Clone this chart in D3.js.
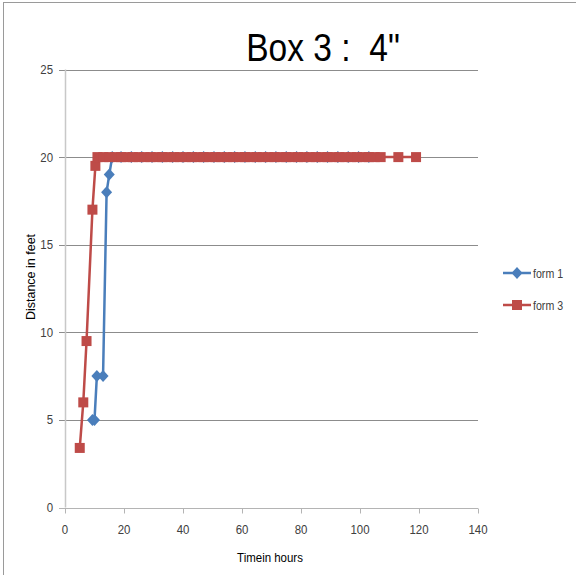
<!DOCTYPE html>
<html>
<head>
<meta charset="utf-8">
<script src="https://cdn.jsdelivr.net/npm/d3@7"></script>
<style>
  html, body { margin: 0; padding: 0; background: #fff; }
  svg { display: block; }
  text { font-family: "Liberation Sans", Arial, sans-serif; }
</style>
</head>
<body>
<svg id="chart" width="576" height="575"></svg>
<script>
// Time (hours) and distance (feet) for each form
const form1Hours = [9.3, 10, 10.8, 12.9, 14.1, 15, 16, 19, 22.5, 26, 29.5, 33, 36.5, 40, 43.5, 47, 50.5, 54, 57.5, 61, 64.5, 68, 71.5, 75, 78.5, 82, 85.5, 89, 92.5, 96, 99.5, 103];
const form1Feet  = [5, 5, 7.5, 7.5, 18, 19, 20, 20, 20, 20, 20, 20, 20, 20, 20, 20, 20, 20, 20, 20, 20, 20, 20, 20, 20, 20, 20, 20, 20, 20, 20, 20];

const form3Hours = [5, 6.2, 7.3, 9.3, 10.3, 11, 13, 15, 17, 19, 21, 23, 25, 27, 29, 31, 33, 35, 37, 39, 41, 43, 45, 47, 49, 51, 53, 55, 57, 59, 61, 63, 65, 67, 69, 71, 73, 75, 77, 79, 81, 83, 85, 87, 89, 91, 93, 95, 97, 99, 101, 103, 105, 107, 113, 119];
const form3Feet  = [3.4, 6, 9.5, 17, 19.5, 20, 20, 20, 20, 20, 20, 20, 20, 20, 20, 20, 20, 20, 20, 20, 20, 20, 20, 20, 20, 20, 20, 20, 20, 20, 20, 20, 20, 20, 20, 20, 20, 20, 20, 20, 20, 20, 20, 20, 20, 20, 20, 20, 20, 20, 20, 20, 20, 20, 20, 20];

const xTicks = [0, 20, 40, 60, 80, 100, 120, 140];
const yTicks = [0, 5, 10, 15, 20, 25];
const seriesNames = ["form 1", "form 3"];
const seriesColors = ["#4a7ebb", "#be4b48"];

const svg = d3.select("#chart");

// narrow text helper: horizontally condensed label
function narrowText(parent, px, py, str, size, squeeze, anchor, fill) {
  return parent.append("text")
    .attr("transform", `translate(${px},${py}) scale(${squeeze},1)`)
    .attr("text-anchor", anchor)
    .attr("font-size", size)
    .attr("fill", fill)
    .attr("xml:space", "preserve")
    .text(str);
}

// outer chart frame
svg.append("rect")
  .attr("x", 3.5).attr("y", 2.5)
  .attr("width", 600).attr("height", 600)
  .attr("fill", "none").attr("stroke", "#9a9a9a").attr("stroke-width", 1);

const x = d3.scaleLinear().domain([0, 140]).range([65, 478]);
const y = d3.scaleLinear().domain([0, 25]).range([507.5, 69.5]);

// horizontal gridlines with short left ticks
svg.append("g").selectAll("line")
  .data(yTicks.filter(t => t > 0))
  .join("line")
  .attr("x1", 59).attr("x2", x(140))
  .attr("y1", d => Math.round(y(d)) + 0.5).attr("y2", d => Math.round(y(d)) + 0.5)
  .attr("stroke", "#8c8c8c").attr("stroke-width", 1);

// y axis line
svg.append("line")
  .attr("x1", 65.5).attr("x2", 65.5)
  .attr("y1", y(25)).attr("y2", y(0))
  .attr("stroke", "#c8c8c8").attr("stroke-width", 1.5);

// x axis with downward ticks
const xAxis = d3.axisBottom(x).tickValues(xTicks).tickSize(5).tickSizeOuter(0).tickFormat(() => "");
const gx = svg.append("g").attr("transform", `translate(0,${Math.round(y(0)) + 0.5})`).call(xAxis);
gx.select(".domain").attr("stroke", "#b4b4b4").attr("stroke-width", 1.2).attr("d", `M${x(0) - 6},0H${x(140)}`);
gx.selectAll(".tick line").attr("stroke", "#b4b4b4");
xTicks.forEach(t => narrowText(svg, x(t), 534, String(t), 13, 0.88, "middle", "#404040"));

// y tick labels
yTicks.forEach(t => narrowText(svg, 53, y(t) + 4.5, String(t), 13, 0.88, "end", "#404040"));

// series lines and markers
const line = d3.line().x(d => x(d[0])).y(d => y(d[1]));
const form1 = form1Hours.map((h, i) => [h, form1Feet[i]]);
const form3 = form3Hours.map((h, i) => [h, form3Feet[i]]);
const diamondPath = "M0,-6L5.5,0L0,6L-5.5,0Z";

svg.append("path").datum(form1).attr("d", line)
  .attr("fill", "none").attr("stroke", seriesColors[0]).attr("stroke-width", 2.5);
svg.append("g").selectAll("path").data(form1).join("path")
  .attr("transform", d => `translate(${x(d[0])},${y(d[1])})`)
  .attr("d", diamondPath).attr("fill", seriesColors[0]);

svg.append("path").datum(form3).attr("d", line)
  .attr("fill", "none").attr("stroke", seriesColors[1]).attr("stroke-width", 2.5);
svg.append("g").selectAll("rect").data(form3).join("rect")
  .attr("x", d => x(d[0]) - 5).attr("y", d => y(d[1]) - 5)
  .attr("width", 10).attr("height", 10)
  .attr("fill", seriesColors[1]);

// legend
const legend = svg.append("g");
seriesNames.forEach((name, i) => {
  const ly = 273 + i * 32;
  legend.append("line").attr("x1", 503).attr("x2", 531).attr("y1", ly).attr("y2", ly)
    .attr("stroke", seriesColors[i]).attr("stroke-width", 2.5);
  if (i === 0) {
    legend.append("path").attr("transform", `translate(517,${ly})`).attr("d", diamondPath).attr("fill", seriesColors[i]);
  } else {
    legend.append("rect").attr("x", 512).attr("y", ly - 5).attr("width", 10).attr("height", 10).attr("fill", seriesColors[i]);
  }
  narrowText(legend, 533, ly + 4.5, name, 12.5, 0.85, "start", "#404040");
});

// title
narrowText(svg, 323, 61, "Box 3 :  4\"", 39, 0.86, "middle", "#000");

// axis titles
svg.append("text")
  .attr("transform", `translate(35,277) rotate(-90)`)
  .attr("text-anchor", "middle")
  .attr("font-family", "DejaVu Sans, sans-serif")
  .attr("font-size", 12.5).attr("fill", "#000")
  .text("Distance in feet");

narrowText(svg, 270, 562, "Timein hours", 13.5, 0.85, "middle", "#000");
</script>
</body>
</html>
